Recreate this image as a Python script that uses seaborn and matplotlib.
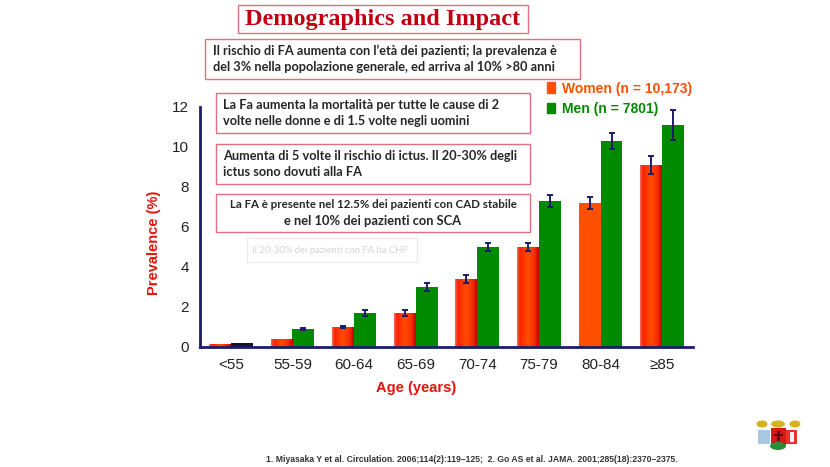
import matplotlib
matplotlib.use("Agg")
import matplotlib.pyplot as plt
import numpy as np
import pandas as pd
import seaborn as sns
from matplotlib.colors import LinearSegmentedColormap
from matplotlib.patches import Rectangle, Patch, Ellipse

# Data
age_groups = ["<55", "55-59", "60-64", "65-69", "70-74", "75-79", "80-84", "≥85"]
women = [0.12, 0.4, 1.0, 1.7, 3.4, 5.0, 7.2, 9.1]
men = [0.2, 0.9, 1.7, 3.0, 5.0, 7.3, 10.3, 11.1]
women_err = [0.0, 0.0, 0.07, 0.13, 0.2, 0.22, 0.3, 0.45]
men_err = [0.0, 0.05, 0.17, 0.18, 0.2, 0.28, 0.4, 0.75]
labels = ["Women (n = 10,173)", "Men (n = 7801)"]

W, H = 830, 467
c_women = "#FF5000"
c_men = "#008A00"
navy = "#1C1C6A"
red_txt = "#E8120C"
box_edge = "#E07080"

df = pd.DataFrame({
    "age": age_groups * 2,
    "prev": women + men,
    "sex": [labels[0]] * len(age_groups) + [labels[1]] * len(age_groups),
})

sns.set_style("white")
plt.rcParams["font.family"] = ["Liberation Sans", "DejaVu Sans"]

fig = plt.figure(figsize=(W / 100, H / 100), dpi=100)
ax = fig.add_axes([200 / W, 1 - 347 / H, 493 / W, 240 / H])

sns.barplot(data=df, x="age", y="prev", hue="sex", palette=[c_women, c_men],
            width=0.71, errorbar=None, legend=False, saturation=1, linewidth=0, ax=ax)

# cylinder-like shading on the women bars (the 80-84 one is flat in the original)
shade = LinearSegmentedColormap.from_list(
    "shade", [(0, "#F07060"), (0.12, "#FF2200"), (0.5, "#FF4E00"), (0.82, "#F52A00"), (1, "#C00000")])
grad = np.linspace(0, 1, 64).reshape(1, -1)
for i, bar in enumerate(ax.containers[0]):
    if age_groups[i] == "80-84":
        continue
    x0, w, h = bar.get_x(), bar.get_width(), bar.get_height()
    ax.imshow(grad, cmap=shade, extent=(x0, x0 + w, 0, h), aspect="auto",
              interpolation="bicubic", zorder=bar.get_zorder())
    bar.set_alpha(0)

# error bars from the bar geometry
for cont, errs in zip(ax.containers, [women_err, men_err]):
    for bar, e in zip(cont, errs):
        if e > 0:
            ax.errorbar(bar.get_x() + bar.get_width() / 2, bar.get_height(), yerr=e,
                        color=navy, capsize=2.2, elinewidth=1.4, capthick=1.4, zorder=4)
# first men bar is dark in the original
ax.containers[1][0].set_color("#151525")

ax.set_ylim(0, 12)
ax.set_xlim(-0.5, 7.5)
ax.set_yticks(range(0, 13, 2))
ax.tick_params(axis="both", labelsize=11, colors="#222222", length=0, pad=8)
ax.tick_params(axis="x", pad=8)
for s in ["top", "right"]:
    ax.spines[s].set_visible(False)
for s in ["left", "bottom"]:
    ax.spines[s].set_color(navy)
    ax.spines[s].set_linewidth(2)
ax.set_ylabel("Prevalence (%)", color=red_txt, fontsize=10.5, fontweight="bold")
ax.set_xlabel("Age (years)", color=red_txt, fontsize=10.5, fontweight="bold")
ax.yaxis.set_label_coords(-0.079, 0.433)
ax.xaxis.set_label_coords(0.438, -0.142)

# legend
handles = [Patch(color=c_women), Patch(color=c_men)]
fig.legend(handles, labels, loc="upper left", bbox_to_anchor=(534 / W, 1 - 69 / H),
           frameon=False, labelcolor=[c_women, c_men], handlelength=0.6, handleheight=0.8,
           handletextpad=0.55, labelspacing=0.45,
           prop={"family": "Liberation Sans", "weight": "bold", "size": 10})


def box(x0, y0, x1, y1, edge=box_edge, lw=1.0):
    fig.add_artist(Rectangle((x0 / W, 1 - y1 / H), (x1 - x0) / W, (y1 - y0) / H,
                             transform=fig.transFigure, facecolor="white",
                             edgecolor=edge, linewidth=lw, zorder=5))


def txt(x, y, s, **kw):
    fig.text(x / W, 1 - y / H, s, zorder=6, **kw)


body = ["Lato", "DejaVu Sans"]

box(238, 5, 528, 33)
txt(383, 19, "Demographics and Impact", ha="center", va="center", color="#C00010",
    family=["Liberation Serif", "DejaVu Serif"], fontweight="bold", fontsize=17.5)

box(205, 39, 580, 79)
txt(213, 59, "Il rischio di FA aumenta con l\u2019età dei pazienti; la prevalenza è\n"
    "del 3% nella popolazione generale, ed arriva al 10% >80 anni",
    ha="left", va="center", family=body, fontweight="bold", fontsize=9.15, linespacing=1.45)

box(216, 93, 530, 133)
txt(223, 113, "La Fa aumenta la mortalità per tutte le cause di 2\n"
    "volte nelle donne e di 1.5 volte negli uomini",
    ha="left", va="center", family=body, fontweight="bold", fontsize=9.2, linespacing=1.45)

box(216, 144, 530, 184)
txt(223, 164, "Aumenta di 5 volte il rischio di ictus. Il 20-30% degli\n"
    "ictus sono dovuti alla FA",
    ha="left", va="center", family=body, fontweight="bold", fontsize=9.2, linespacing=1.45)

box(216, 194, 530, 232)
txt(373, 205, "La FA è presente nel 12.5% dei pazienti con CAD stabile",
    ha="center", va="center", family=body, fontweight="bold", fontsize=8.3)
txt(373, 221, "e nel 10% dei pazienti con SCA",
    ha="center", va="center", family=body, fontweight="bold", fontsize=9.3)

box(247, 238, 417, 262, edge="#F3E6E8", lw=0.8)
txt(330, 251, "Il 20-30% dei pazienti con FA ha CHF", ha="center", va="center",
    family=body, fontsize=6.8, color="#D5D5D5")

txt(472, 459, "1. Miyasaka Y et al. Circulation. 2006;114(2):119\u2013125;  "
    "2. Go AS et al. JAMA. 2001;285(18):2370\u20132375.",
    ha="center", va="center", fontsize=6.2, fontweight="bold", color="#333333")


# small coat of arms, bottom right (decoration)
def rect(x0, y0, x1, y1, color):
    fig.add_artist(Rectangle((x0 / W, 1 - y1 / H), (x1 - x0) / W, (y1 - y0) / H,
                             transform=fig.transFigure, facecolor=color, edgecolor="none"))


def blob(cx, cy, w, h, color):
    fig.add_artist(Ellipse((cx / W, 1 - cy / H), w / W, h / H,
                           transform=fig.transFigure, facecolor=color, edgecolor="none"))


for cx, w in [(762, 11), (778, 14), (795, 11)]:
    blob(cx, 424, w, 7, "#D8B020")
rect(758, 430, 770, 444, "#A8C8E0")
rect(771, 428, 786, 446, "#D81818")
rect(786, 430, 797, 444, "#E83030")
rect(790, 432, 794, 442, "#F4F0F0")
rect(777, 431, 780, 441, "#601010")
rect(774, 434, 783, 436, "#601010")
blob(778, 446, 16, 8, "#2E8B3A")

fig.savefig("out.png", dpi=100)
